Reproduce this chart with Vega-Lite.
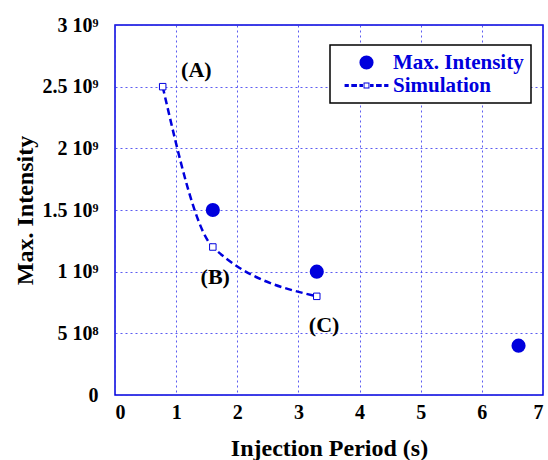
{
  "$schema": "https://vega.github.io/schema/vega-lite/v6.json",
  "width": 428,
  "height": 370,
  "autosize": {"type": "none"},
  "padding": {"left": 115, "top": 25, "right": 5, "bottom": 65},
  "background": "white",
  "config": {
    "view": {"stroke": "#0000dd", "strokeWidth": 1.5},
    "font": "Liberation Serif",
    "axis": {
      "domain": false,
      "ticks": false,
      "grid": true,
      "gridColor": "#3333ee",
      "gridDash": [2, 3],
      "gridWidth": 1,
      "gridOpacity": 0.8,
      "labelFont": "Liberation Serif",
      "labelFontSize": 20,
      "labelFontWeight": "bold",
      "labelColor": "black",
      "titleFont": "Liberation Serif",
      "titleFontSize": 24,
      "titleFontWeight": "bold",
      "titleColor": "black"
    }
  },
  "datasets": {
    "measured": [
      {"period": 1.6, "intensity": 1500000000, "series": "Max. Intensity"},
      {"period": 3.3, "intensity": 1000000000, "series": "Max. Intensity"},
      {"period": 6.6, "intensity": 400000000, "series": "Max. Intensity"}
    ],
    "simulation": [
      {"period": 0.78, "intensity": 2500000000},
      {"period": 1.6, "intensity": 1200000000},
      {"period": 3.3, "intensity": 800000000}
    ],
    "labels": [
      {"period": 1.33, "intensity": 2635000000, "label": "(A)"},
      {"period": 1.64, "intensity": 957000000, "label": "(B)"},
      {"period": 3.42, "intensity": 568000000, "label": "(C)"}
    ]
  },
  "encoding": {
    "x": {
      "field": "period",
      "type": "quantitative",
      "scale": {"domain": [0, 7], "nice": false},
      "axis": {"title": "Injection Period (s)", "values": [0, 1, 2, 3, 4, 5, 6, 7], "labelPadding": 7, "titlePadding": 14}
    },
    "y": {
      "field": "intensity",
      "type": "quantitative",
      "scale": {"domain": [0, 3000000000], "nice": false},
      "axis": {
        "title": "Max. Intensity",
        "values": [0, 500000000, 1000000000, 1500000000, 2000000000, 2500000000, 3000000000],
        "labelExpr": "datum.value == 0 ? '0' : (datum.value < 1000000000 ? (datum.value / 100000000) + ' 10⁸' : (datum.value / 1000000000) + ' 10⁹')",
        "labelPadding": 17,
        "titlePadding": 5
      }
    }
  },
  "layer": [
    {
      "data": {"name": "simulation"},
      "mark": {"type": "line", "interpolate": "monotone", "color": "#0000dd", "strokeWidth": 2.5, "strokeDash": [7, 4]}
    },
    {
      "data": {"name": "simulation"},
      "mark": {"type": "point", "shape": "square", "filled": false, "color": "#0000dd", "fill": "white", "fillOpacity": 1, "size": 42, "strokeWidth": 1, "opacity": 1}
    },
    {
      "data": {"name": "measured"},
      "mark": {"type": "point", "filled": true, "size": 200, "opacity": 1},
      "encoding": {
        "color": {
          "field": "series",
          "type": "nominal",
          "scale": {"domain": ["Max. Intensity", "Simulation"], "range": ["#0000dd", "#0000dd"]},
          "legend": {
            "title": null,
            "orient": "none",
            "legendX": 215,
            "legendY": 20,
            "strokeColor": "black",
            "fillColor": "white",
            "padding": 7,
            "symbolSize": 200,
            "symbolStrokeWidth": 0,
            "symbolOpacity": 1,
            "symbolOffset": 19,
            "labelOffset": 16,
            "rowPadding": 1,
            "labelFont": "Liberation Serif",
            "labelFontSize": 21,
            "labelFontWeight": "bold",
            "labelColor": "#0000dd",
            "encode": {"legend": {"update": {"strokeWidth": {"value": 1.5}}}}
          }
        },
        "shape": {
          "field": "series",
          "type": "nominal",
          "scale": {
            "domain": ["Max. Intensity", "Simulation"],
            "range": ["circle", "M-3.1,-0.2H-2.5V0.2H-3.1Z M-2.15,-0.2H-1.35V0.2H-2.15Z M-1,-0.2H-0.5V0.2H-1Z M0.5,-0.2H1V0.2H0.5Z M1.35,-0.2H2.15V0.2H1.35Z M2.5,-0.2H3.1V0.2H2.5Z M-0.42,-0.42H0.42V0.42H-0.42Z M-0.28,-0.28V0.28H0.28V-0.28Z"]
          },
          "legend": null
        }
      }
    },
    {
      "data": {"name": "labels"},
      "mark": {"type": "text", "font": "Liberation Serif", "fontSize": 22, "fontWeight": "bold", "color": "black", "align": "center", "baseline": "middle"},
      "encoding": {"text": {"field": "label"}}
    }
  ]
}
